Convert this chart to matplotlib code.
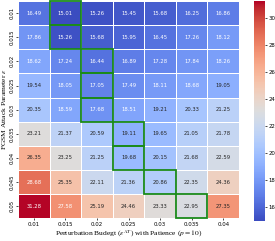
import numpy as np
import matplotlib
matplotlib.use("Agg")
import matplotlib.pyplot as plt
import seaborn as sns
from matplotlib.patches import Rectangle

x_labels = ["0.01", "0.015", "0.02", "0.025", "0.03", "0.035", "0.04"]
y_labels = ["0.01", "0.015", "0.02", "0.025", "0.03", "0.035", "0.04", "0.045", "0.05"]

row_001 = [16.49, 15.01, 15.26, 15.45, 15.68, 16.25, 16.86]
row_0015 = [17.86, 15.26, 15.68, 15.95, 16.45, 17.26, 18.12]
row_002 = [18.62, 17.24, 16.44, 16.89, 17.28, 17.84, 18.26]
row_0025 = [19.54, 18.05, 17.05, 17.49, 18.11, 18.68, 19.05]
row_003 = [20.35, 18.59, 17.68, 18.51, 19.21, 20.33, 21.25]
row_0035 = [23.21, 21.37, 20.59, 19.11, 19.65, 21.05, 21.78]
row_004 = [26.35, 23.25, 21.25, 19.68, 20.15, 21.68, 22.59]
row_0045 = [28.68, 25.35, 22.11, 21.36, 20.86, 22.35, 24.36]
row_005 = [31.28, 27.58, 25.19, 24.46, 23.33, 22.95, 27.35]

data = np.array([row_001, row_0015, row_002, row_0025, row_003,
                 row_0035, row_004, row_0045, row_005])

plt.rcParams["mathtext.fontset"] = "stix"

fig = plt.figure(figsize=(2.75, 2.41), dpi=100)
ax = fig.add_axes([0.066, 0.094, 0.803, 0.902])
cax = fig.add_axes([0.924, 0.085, 0.04, 0.911])

sns.heatmap(data, ax=ax, cbar_ax=cax, cmap="coolwarm", annot=True, fmt=".2f",
            annot_kws={"fontsize": 3.8}, linewidths=0.5, linecolor="white",
            xticklabels=x_labels, yticklabels=y_labels)

for i in range(data.shape[0]):
    j = int(np.argmin(data[i]))
    ax.add_patch(Rectangle((j, i), 1, 1, fill=False, edgecolor="#1a8a1a",
                           linewidth=1.3, clip_on=False, zorder=5))

ax.tick_params(axis="both", labelsize=3.9, length=1.5, width=0.5, pad=1.0)
ax.set_yticklabels(y_labels, rotation=90, va="center")
ax.set_xticklabels(x_labels, rotation=0)
ax.set_xlabel(r"Perturbation Budegt ($\epsilon^{AT}$) with Patience ($p=10$)",
              family="Liberation Serif", fontsize=5.4)
ax.set_ylabel(r"FGSM Attack Parameter $\epsilon$", family="Liberation Serif",
              fontsize=5.4)
ax.xaxis.set_label_coords(0.5, -0.048)
ax.yaxis.set_label_coords(-0.047, 0.5)
cax.tick_params(labelsize=3.9, length=1.5, width=0.5, pad=1.0)
cax.set_yticks([16, 18, 20, 22, 24, 26, 28, 30])

fig.savefig("out.png", dpi=100)
